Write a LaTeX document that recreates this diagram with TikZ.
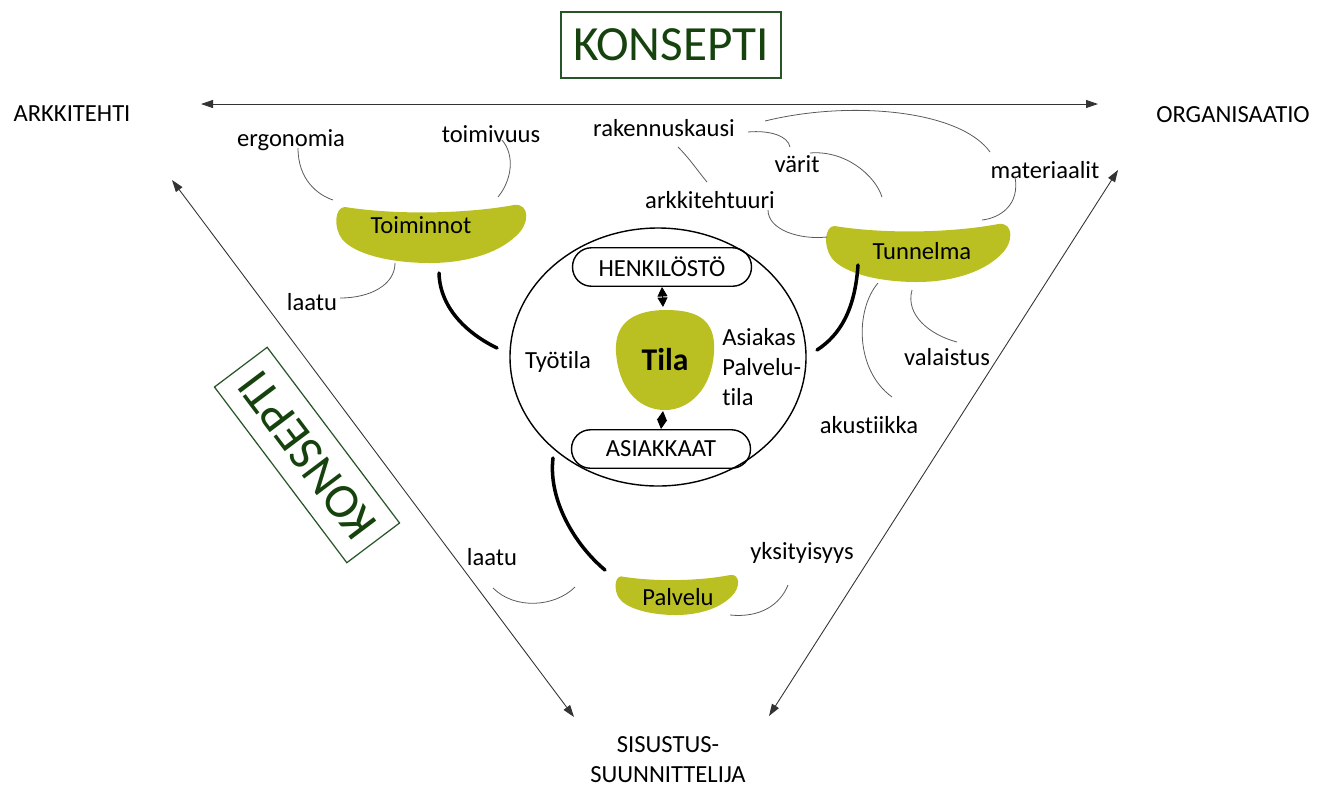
\documentclass[tikz,border=0pt]{standalone}
\usepackage{fontspec}
\setmainfont{Carlito}[Ligatures=NoCommon]
\usetikzlibrary{arrows.meta}

\definecolor{beangreen}{RGB}{187,192,34}
\definecolor{konseptframe}{RGB}{40,85,40}
\definecolor{konsepttext}{RGB}{22,66,14}

\tikzset{
  lbl/.style={font=\fontsize{14}{17}\selectfont, inner sep=0pt},
  konsept/.style={draw=konseptframe, line width=0.7pt, text=konsepttext,
    font=\fontsize{28}{30}\selectfont, minimum width=4.4cm, minimum height=1.32cm},
  rolebox/.style={lbl, draw, line width=0.8pt, rounded corners=0.38cm,
    minimum width=3.58cm, minimum height=0.77cm},
  twoway/.style={{Triangle[length=2.4mm,width=1.6mm]}-{Triangle[length=2.4mm,width=1.6mm]},
    draw=black!80, line width=0.5pt},
  diamondlink/.style={{Triangle[length=1.9mm,width=2mm]}-{Triangle[length=1.9mm,width=2mm]},
    line width=0.6pt},
  link/.style={draw=black!65, line width=0.45pt},
  thickline/.style={line width=2pt, line cap=round},
  bean/.pic={
    \fill[beangreen] (-85,-27) .. controls (-35,-19) and (35,-20) .. (84,-29)
      .. controls (100,-31) and (100,-10) .. (86,2)
      .. controls (66,21) and (32,29) .. (0,29)
      .. controls (-40,29) and (-76,20) .. (-88,5)
      .. controls (-97,-7) and (-95,-27) .. (-85,-27) -- cycle;
  }
}

\begin{document}
\begin{tikzpicture}[x=0.02cm, y=-0.02cm]
  \useasboundingbox (0,0) rectangle (1328,789);

  % Konsepti frames
  \node[konsept] (topkonsept) at (671,45) {KONSEPTI};
  \node[konsept, rotate=127] (sidekonsept) at (307,455) {KONSEPTI};

  % Roles at the corners
  \node[lbl] (arkkitehti) at (72,114) {ARKKITEHTI};
  \node[lbl] (organisaatio) at (1233,115) {ORGANISAATIO};
  \node[lbl, align=center] (sisustus) at (668,760) {SISUSTUS-\\SUUNNITTELIJA};

  % Ends of the arrows and of the curves
  \foreach \n/\x/\y in {topL/201/104, topR/1098/104, leftT/172/180, leftB/574/717,
      rightT/1118/170, rightB/769/716,
      ergo-a/298/148, ergo-b/333/200, toim-a/502/140, toim-b/498/197,
      laatu1-a/395/263, laatu1-b/340/298,
      rak-a/678/147, rak-b/707/182, rakv-a/748/132, rakv-b/790/147,
      rakm-a/765/121, rakm-b/990/152, var-a/810/153, var-b/882/197,
      mat-a/1015/177, mat-b/982/220, arkt-a/768/210, arkt-b/827/237,
      aku-a/878/283, aku-b/892/397, val-a/912/290, val-b/957/342,
      laatu2-a/493/588, laatu2-b/575/587, yks-a/730/615, yks-b/788/585,
      toimi-c/439/273, toimi-d/497/348, tunn-c/858/265, tunn-d/817/350,
      palv-c/553/458, palv-d/605/570, tilatop/663/307, tilabot/663/411}
    \coordinate (\n) at (\x,\y);

  % Triangle of arrows
  \draw[twoway] (topL) -- (topR);
  \draw[twoway] (leftT) -- (leftB);
  \draw[twoway] (rightT) -- (rightB);

  % Green beans
  \pic at (430,234) {bean};
  \pic[xscale=0.97] at (917,253) {bean};
  \pic[xscale=0.645, yscale=0.69] at (676,595) {bean};
  \node[lbl] (toiminnot) at (421,225) {Toiminnot};
  \node[lbl] (tunnelma) at (922,251) {Tunnelma};
  \node[lbl] (palvelu) at (678,597) {Palvelu};

  % Centre: Tila
  \draw[line width=0.8pt] (658,357) ellipse [x radius=148, y radius=129];
  \fill[beangreen] (616,352) .. controls (614,320) and (638,310) .. (666,310)
    .. controls (698,310) and (716,320) .. (714,352)
    .. controls (712,388) and (690,410) .. (665,410)
    .. controls (636,410) and (618,385) .. (616,352) -- cycle;
  \node[lbl, font=\fontsize{18}{20}\selectfont\bfseries] (tila) at (665,360) {Tila};
  \node[rolebox] (henkilosto) at (662,267) {HENKILÖSTÖ};
  \node[rolebox] (asiakkaat) at (661,449) {ASIAKKAAT};
  \node[lbl] (tyotila) at (558,362) {Työtila};
  \node[lbl, anchor=west, align=left] (asiakas) at (722,367) {Asiakas\\Palvelu-\\tila};
  \draw[diamondlink] (henkilosto.south) -- (tilatop);
  \draw[diamondlink] (tilabot) -- (asiakkaat.north);

  % Words round the beans
  \node[lbl] (ergonomia) at (291,140) {ergonomia};
  \node[lbl] (toimivuus) at (491,134) {toimivuus};
  \node[lbl] (laatu1) at (312,302) {laatu};
  \node[lbl] (rakennuskausi) at (664,128) {rakennuskausi};
  \node[lbl] (varit) at (797,164) {värit};
  \node[lbl] (arkkitehtuuri) at (710,200) {arkkitehtuuri};
  \node[lbl] (materiaalit) at (1045,170) {materiaalit};
  \node[lbl] (valaistus) at (947,357) {valaistus};
  \node[lbl] (akustiikka) at (869,425) {akustiikka};
  \node[lbl] (laatu2) at (492,557) {laatu};
  \node[lbl] (yksityisyys) at (802,553) {yksityisyys};

  % Thin curves
  \draw[link] (ergo-a) .. controls +(0,32) and +(-15,-5) .. (ergo-b);
  \draw[link] (toim-a) .. controls +(13,15) and +(14,-17) .. (toim-b);
  \draw[link] (laatu1-a) .. controls +(0,22) and +(30,0) .. (laatu1-b);
  \draw[link] (rak-a) .. controls +(12,12) and +(-10,-12) .. (rak-b);
  \draw[link] (rakv-a) .. controls +(22,-2) and +(-2,-11) .. (rakv-b);
  \draw[link] (rakm-a) .. controls +(85,-21) and +(-30,-42) .. (rakm-b);
  \draw[link] (var-a) .. controls +(35,-3) and +(-7,-22) .. (var-b);
  \draw[link] (mat-a) .. controls +(5,28) and +(18,-2) .. (mat-b);
  \draw[link] (arkt-a) .. controls +(0,20) and +(-27,3) .. (arkt-b);
  \draw[link] (aku-a) .. controls +(-23,27) and +(-37,-27) .. (aku-b);
  \draw[link] (val-a) .. controls +(-7,25) and +(-27,-7) .. (val-b);
  \draw[link] (laatu2-a) .. controls +(22,22) and +(-20,20) .. (laatu2-b);
  \draw[link] (yks-a) .. controls +(30,3) and +(-8,20) .. (yks-b);

  % Thick links to the centre
  \draw[thickline] (toimi-c) .. controls +(1,37) and +(-27,-13) .. (toimi-d);
  \draw[thickline] (tunn-c) .. controls +(-3,45) and +(23,-15) .. (tunn-d);
  \draw[thickline] (palv-c) .. controls +(-5,42) and +(-30,-25) .. (palv-d);
\end{tikzpicture}
\end{document}
